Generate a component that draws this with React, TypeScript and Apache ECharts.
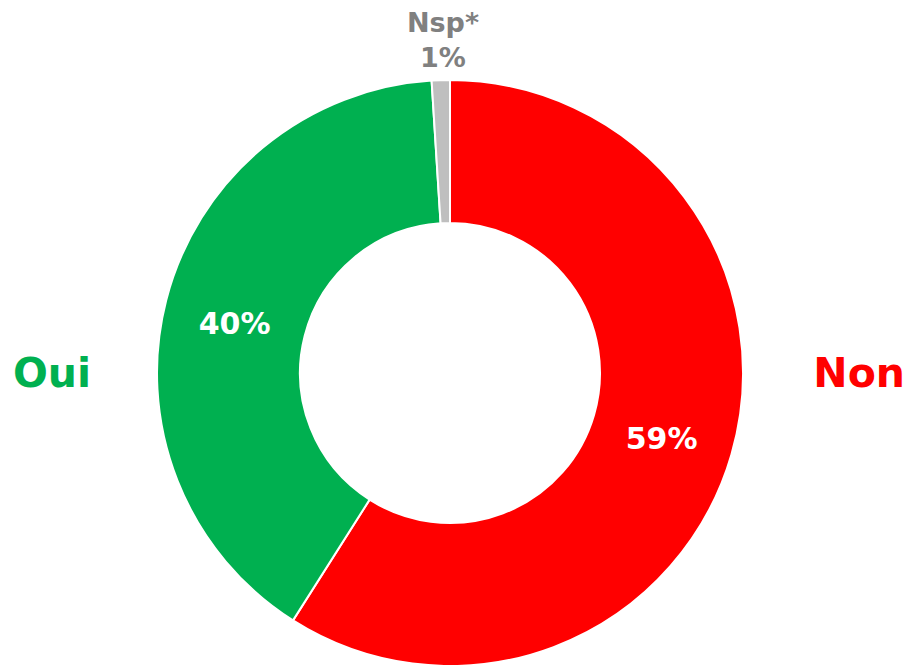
import React, { useEffect, useRef } from "react";
import * as echarts from "echarts";

const names = ["Non", "Oui", "Nsp*"];
const values = [59, 40, 1];
const colors = ["#FF0000", "#00B050", "#BFBFBF"];
const labelColors = ["#FF0000", "#00B050", "#808080"];

const FONT = "DejaVu Sans, Verdana, sans-serif";

export default function App() {
  const ref = useRef<HTMLDivElement>(null);
  useEffect(() => {
    if (!ref.current) return;
    const chart = echarts.init(ref.current, null, { renderer: "svg" });
    const innerOffsets = [[-4, 3], [2, 6], [0, 0]];
    const data = names.map((n, i) => ({
      name: n,
      value: values[i],
      itemStyle: { color: colors[i] },
      label: { offset: innerOffsets[i] },
    }));
    const outerPos: Record<string, { x: number; y: number; align: string }> = {
      Non: { x: 905, y: 373, align: "right" },
      Oui: { x: 13, y: 373, align: "left" },
      "Nsp*": { x: 443, y: 40, align: "center" },
    };
    chart.setOption({
      animation: false,
      backgroundColor: "#ffffff",
      series: [
        {
          type: "pie",
          center: [450, 373],
          radius: [150, 293],
          startAngle: 90,
          clockwise: true,
          avoidLabelOverlap: false,
          itemStyle: { borderColor: "#ffffff", borderWidth: 2 },
          label: {
            show: true,
            position: "inside",
            color: "#ffffff",
            fontFamily: FONT,
            fontWeight: "bold",
            fontSize: 30,
            formatter: (p: any) => (p.dataIndex === 2 ? "" : p.value + "%"),
          },
          labelLine: { show: false },
          data,
        },
        {
          type: "pie",
          center: [450, 373],
          radius: [150, 293],
          startAngle: 90,
          clockwise: true,
          silent: true,
          avoidLabelOverlap: false,
          itemStyle: { color: "rgba(0,0,0,0)" },
          label: {
            show: true,
            position: "outside",
            fontFamily: FONT,
            fontWeight: "bold",
            formatter: (p: any) =>
              p.dataIndex === 2 ? p.name + "\n" + p.value + "%" : p.name,
          },
          labelLine: { show: false },
          labelLayout: (params: any) => {
            const pos = outerPos[names[params.dataIndex]];
            return { x: pos.x, y: pos.y, align: pos.align, verticalAlign: "middle" };
          },
          data: names.map((n, i) => ({
            name: n,
            value: values[i],
            label: {
              color: labelColors[i],
              fontSize: i === 2 ? 27 : 41,
              lineHeight: i === 2 ? 35 : 48,
            },
          })),
        },
      ],
    });
    return () => chart.dispose();
  }, []);
  return (
    <div
      ref={ref}
      style={{ position: "fixed", left: 0, top: 0, width: 907, height: 665 }}
    />
  );
}
